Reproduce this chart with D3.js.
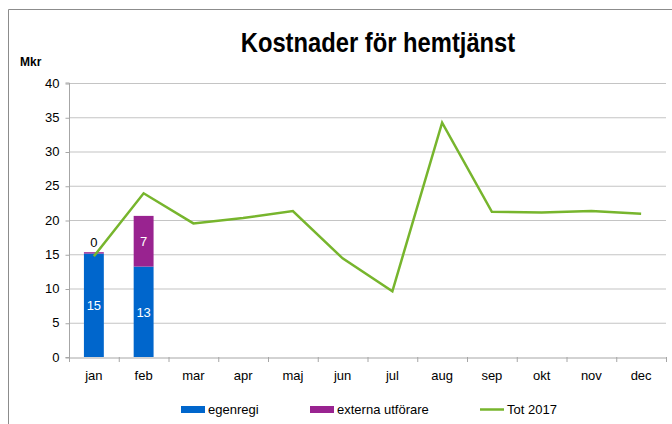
<!DOCTYPE html>
<html><head><meta charset="utf-8">
<script src="https://cdn.jsdelivr.net/npm/d3@7"></script>
<style>body{margin:0;background:#fff}svg{display:block;font-family:"Liberation Sans",Arial,sans-serif}</style>
</head><body><svg id="c" width="672" height="424"></svg>
<script>
const months = ["jan","feb","mar","apr","maj","jun","jul","aug","sep","okt","nov","dec"];
const egenregi = [15.1, 13.2];
const externa = [0.2, 7.4];
const egenregiLabels = ["15", "13"];
const externaLabels = ["0", "7"];
const tot2017 = [14.7, 23.9, 19.5, 20.3, 21.3, 14.4, 9.6, 34.2, 21.2, 21.1, 21.3, 20.9];
const yTicks = [0, 5, 10, 15, 20, 25, 30, 35, 40];

const svg = d3.select("#c");
const L = 69, R = 666, T = 83, B = 357;
const x = d3.scaleBand().domain(months).range([L, R]).paddingInner(0.6).paddingOuter(0.3);
const xc = d3.scaleBand().domain(months).range([L, R]);
const y = d3.scaleLinear().domain([0, 40]).range([B, T]);

// frame
svg.append("path").attr("d", `M8.5,424 V9.5 H672`).attr("fill","none").attr("stroke","#8c8c8c").attr("stroke-width",1);

// gridlines
svg.append("g").selectAll("line").data(yTicks.filter(d => d > 0)).join("line")
  .attr("x1", L).attr("x2", R).attr("y1", d => y(d) + 0.5).attr("y2", d => y(d) + 0.5)
  .attr("stroke", "#c4c4c4").attr("stroke-width", 1.2);

// y axis
const ya = svg.append("g").attr("transform", `translate(${L + 0.5},0)`)
  .call(d3.axisLeft(y).tickValues(yTicks).tickSize(4).tickPadding(6));
ya.select(".domain").attr("stroke", "#a6a6a6").attr("d", `M-4,${B + 0.5}H0V${T}H-4`);
ya.selectAll(".tick line").attr("stroke", "#a6a6a6").attr("transform","translate(0,0.5)");
ya.selectAll("text").attr("font-size", 13).attr("fill", "#000").attr("font-family","Liberation Sans, Arial");

// x axis
const xa = svg.append("g").attr("transform", `translate(0,${B + 0.5})`)
  .call(d3.axisBottom(xc).tickSize(0).tickPadding(13));
xa.select(".domain").attr("stroke", "#a6a6a6");
xa.selectAll("text").attr("font-size", 13).attr("fill", "#000").attr("font-family","Liberation Sans, Arial");
svg.append("g").selectAll("line").data(d3.range(months.length + 1)).join("line")
  .attr("x1", i => L + i * xc.bandwidth() + 0.5).attr("x2", i => L + i * xc.bandwidth() + 0.5)
  .attr("y1", B).attr("y2", B + 5).attr("stroke", "#a6a6a6");

// bars
const bars = svg.append("g");
egenregi.forEach((v, i) => {
  const m = months[i];
  bars.append("rect").attr("x", x(m)).attr("width", x.bandwidth())
    .attr("y", y(v)).attr("height", y(0) - y(v)).attr("fill", "#0066cc");
  bars.append("rect").attr("x", x(m)).attr("width", x.bandwidth())
    .attr("y", y(v + externa[i])).attr("height", y(v) - y(v + externa[i])).attr("fill", "#992390");
  bars.append("text").attr("x", x(m) + x.bandwidth() / 2).attr("y", y(v / 2) + 5)
    .attr("text-anchor", "middle").attr("font-size", 13).attr("fill", "#fff").text(egenregiLabels[i]);
  const ev = externa[i];
  const ly = ev < 2 ? y(v + ev) - 5 : y(v + ev / 2) + 5;
  bars.append("text").attr("x", x(m) + x.bandwidth() / 2).attr("y", ly)
    .attr("text-anchor", "middle").attr("font-size", 13).attr("fill", ev < 2 ? "#000" : "#fff").text(externaLabels[i]);
});

// line
svg.append("path").datum(tot2017)
  .attr("d", d3.line().x((d, i) => xc(months[i]) + xc.bandwidth() / 2).y(d => y(d)))
  .attr("fill", "none").attr("stroke", "#77b52d").attr("stroke-width", 2.5).attr("stroke-linejoin","miter");

// title
svg.append("text").attr("transform", "translate(378,52) scale(0.88,1)").attr("text-anchor", "middle")
  .attr("font-size", 27).attr("font-weight", "bold").attr("fill", "#000").text("Kostnader för hemtjänst");
svg.append("text").attr("x", 20).attr("y", 66).attr("font-size", 12).attr("font-weight", "bold").attr("fill","#000").text("Mkr");

// legend
const leg = svg.append("g").attr("font-size", 13).attr("fill", "#000");
const items = [
  {label: "egenregi", type: "rect", color: "#0066cc", x: 181},
  {label: "externa utförare", type: "rect", color: "#992390", x: 310},
  {label: "Tot 2017", type: "line", color: "#77b52d", x: 480}
];
items.forEach(it => {
  if (it.type === "rect") leg.append("rect").attr("x", it.x).attr("y", 406).attr("width", 24).attr("height", 7).attr("fill", it.color);
  else leg.append("line").attr("x1", it.x).attr("x2", it.x + 24).attr("y1", 409.5).attr("y2", 409.5).attr("stroke", it.color).attr("stroke-width", 2.5);
  leg.append("text").attr("x", it.x + 27).attr("y", 414).text(it.label);
});
</script></body></html>
